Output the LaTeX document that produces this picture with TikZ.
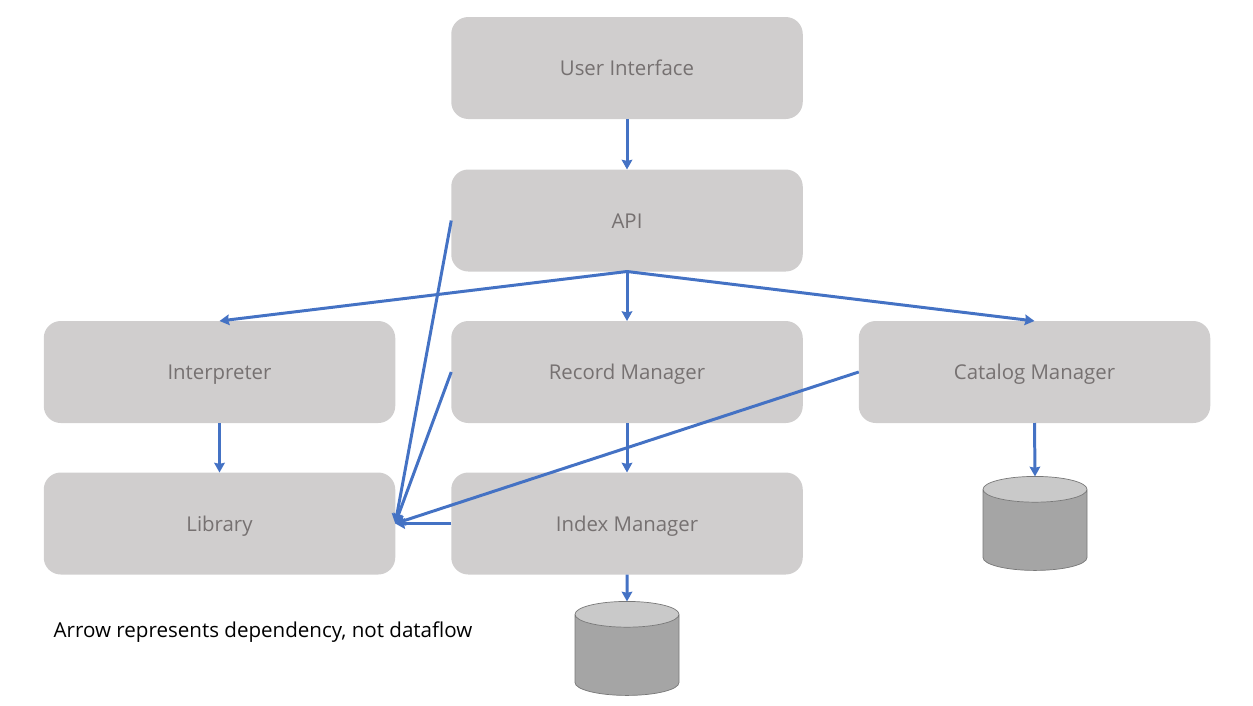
\documentclass[tikz,border=0pt]{standalone}
\usepackage{fontspec}
\setmainfont{Open Sans}
\usepackage{xcolor}
\usetikzlibrary{shapes.geometric, arrows.meta}
\definecolor{boxcolor}{RGB}{208,206,206}
\definecolor{labelcolor}{RGB}{118,113,113}
\definecolor{arrowcolor}{RGB}{68,114,196}
\definecolor{diskbody}{RGB}{165,165,165}
\definecolor{disktop}{RGB}{201,201,201}
\definecolor{diskline}{RGB}{120,120,120}
\tikzset{
    module/.style={rectangle, rounded corners=0.34cm, fill=boxcolor, text=labelcolor, minimum width=7.03cm, minimum height=2.04cm, outer sep=0pt, text height=10.4pt, text depth=1.6pt, font=\fontsize{11.6}{13}\selectfont},
    disk/.style={cylinder, shape border rotate=90, aspect=2.2, draw=diskline, line width=0.4pt, cylinder uses custom fill, cylinder end fill=disktop, cylinder body fill=diskbody, minimum width=2.08cm, minimum height=1.88cm, outer sep=0pt},
    dep/.style={-{Stealth[length=5.5pt, width=6pt, inset=0.6pt]}, line width=1.7pt, arrowcolor}
}

\begin{document}
\begin{tikzpicture}
    \useasboundingbox (0,0) rectangle (25.06,14.1);

    % Modules
    \node[module] (ui) at (12.54,12.74) {User Interface};
    \node[module] (api) at (12.54,9.69) {API};
    \node[module] (interp) at (4.39,6.66) {Interpreter};
    \node[module] (record) at (12.54,6.66) {Record Manager};
    \node[module] (catalog) at (20.69,6.66) {Catalog Manager};
    \node[module] (library) at (4.39,3.63) {Library};
    \node[module] (index) at (12.54,3.63) {Index Manager};

    % Disques
    \node[disk] (catalogdisk) at (20.70,3.44) {};
    \node[disk] (indexdisk) at (12.54,0.94) {};

    % Note
    \node[font=\fontsize{11.7}{13}\selectfont] (note) at (5.26,1.45) {Arrow represents dependency, not dataflow};

    % Dependances
    \draw[dep] (ui) -- (api);
    \draw[dep] (api.south) -- (interp.north);
    \draw[dep] (api.south) -- (record.north);
    \draw[dep] (api.south) -- (catalog.north);
    \draw[dep] (interp) -- (library);
    \draw[dep] (record) -- (index);
    \draw[dep] (catalog.south) -- (catalogdisk.north);
    \draw[dep] (index.south) -- (indexdisk.north);
    \draw[dep] (api.west) -- (library.east);
    \draw[dep] (record.west) -- (library.east);
    \draw[dep] (catalog.west) -- (library.east);
    \draw[dep] (index.west) -- (library.east);
\end{tikzpicture}
\end{document}
